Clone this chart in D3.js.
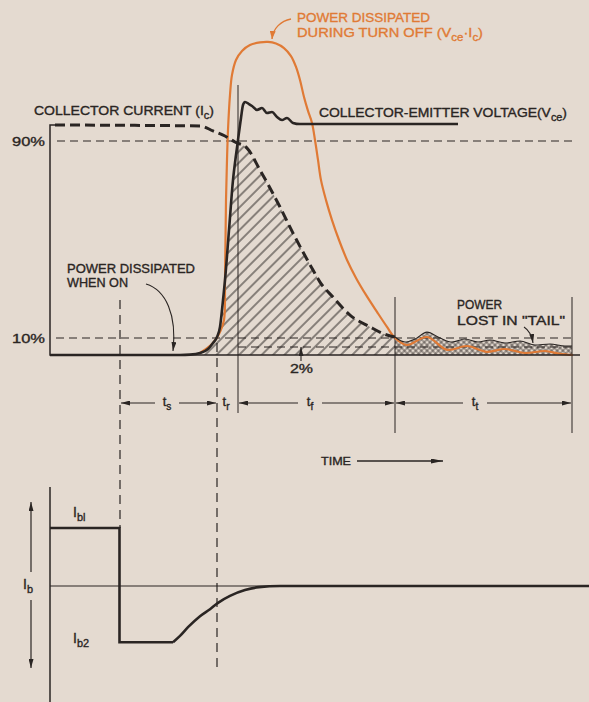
<!DOCTYPE html>
<html><head><meta charset="utf-8">
<script src="https://cdn.jsdelivr.net/npm/d3@7"></script>
<style>html,body{margin:0;padding:0;background:#e4dad0;} svg{display:block}</style>
</head><body><svg id="c" width="589" height="702"></svg>
<script>
// ---------- data (time in arbitrary units, amplitude in % of full scale) ----------
const icTime   = [5,150,163,175,185,197,210,230,243,253,263,270,283,300,320,337,345];
const icPct    = [100,99.4,96.3,93.1,89.6,87.1,78.2,63.2,52.6,44.9,37.6,32.7,26.6,19.3,14.5,11.2,10.4];
const tailTime = [345,355,365,377,390,402,415,428,440,455,470,485,500,515,522];
const tailPct  = [10.4,6.4,9.1,12.4,10,6.4,9.1,6.4,8.2,5.6,7.3,3.8,4.7,2.9,2.9];
const vceTime  = [0,130,140,150,158,163,167,170,172,173,175,179,183,186,188,191,193,195,199,202,207,212,217,222,227,232,237,243,250,262,408];
const vcePct   = [0,0,0.1,0.5,1.5,5.6,10.4,14.5,21.4,25.4,33.5,53.8,74.1,84.3,90.6,104.4,112.5,114.4,113.1,111.9,109.4,110.6,107.5,108.1,105,103.1,104.4,101.3,100.6,100.6,100.6];
const powTime  = [150,163,170,174,175,176,177,178,180,182,186,192,200,210,218,226,234,241,246,250,254,258,262,265,268,271,276,282,289,297,306,316,327,337,345,357,377,397,417,437,455,475,495,510,523];
const powPct   = [0.5,5.6,12.4,17.3,33.5,66.0,82.3,96.9,118.8,131.3,140.6,146.3,150,151.6,151.9,150.9,148.1,143.1,136.3,128.1,117.5,108.8,101.3,90.6,82.3,74.1,66.0,57.9,49.8,41.7,34.4,27.5,20.6,14.5,10,3.8,10.4,1.3,2.9,0.8,1.5,0.5,1.0,0.3,0];
const ibTime   = [0,69.5,69.5,123,130,138,150,160,168,180,195,209,230,539];
const ibVal    = [1,1,-0.97,-0.97,-0.86,-0.71,-0.52,-0.40,-0.29,-0.17,-0.07,-0.02,0,0];
const refLevels = [90,10,2];
const refLabels = ["90%","10%",""];
const eventTimes = [70,167,188,345,522];       // start of ts, tr, tf, tt, end
const intervalNames = ["s","r","f","t"];

// ---------- scales ----------
const x = d3.scaleLinear().domain([0,530]).range([50,580]);
const y = d3.scaleLinear().domain([0,2,10,90,100]).range([355,347,338,141,125]);
const yIb = d3.scaleLinear().domain([-1,1]).range([644,528]);

const ink = '#2a2523', orange = '#e07a35', paper = '#e4dad0';
const FONT = "'Liberation Sans', Arial, sans-serif";
const svg = d3.select('#c');
svg.append('rect').attr('width',589).attr('height',702).attr('fill',paper);
const defs = svg.append('defs');

// patterns
const ph = defs.append('pattern').attr('id','hatch').attr('patternUnits','userSpaceOnUse')
  .attr('width',8).attr('height',8).attr('patternTransform','rotate(45)');
ph.append('line').attr('x1',4).attr('y1',0).attr('x2',4).attr('y2',8).attr('stroke',ink).attr('stroke-width',1);
const pc = defs.append('pattern').attr('id','cross').attr('patternUnits','userSpaceOnUse')
  .attr('width',4).attr('height',4).attr('patternTransform','rotate(45)');
pc.append('line').attr('x1',2).attr('y1',0).attr('x2',2).attr('y2',4).attr('stroke',ink).attr('stroke-width',0.7);
pc.append('line').attr('x1',0).attr('y1',2).attr('x2',4).attr('y2',2).attr('stroke',ink).attr('stroke-width',0.7);

// markers
function marker(id, color, len, wid){
  defs.append('marker').attr('id',id).attr('viewBox',`0 0 ${len} ${wid}`).attr('refX',len).attr('refY',wid/2)
    .attr('markerWidth',len).attr('markerHeight',wid).attr('markerUnits','userSpaceOnUse').attr('orient','auto-start-reverse')
    .append('path').attr('d',`M0,0L${len},${wid/2}L0,${wid}Z`).attr('fill',color);
}
marker('aInk',ink,9,5); marker('aOr',orange,8,6); marker('aLong',ink,12,5);

const zip = (a,b)=>a.map((v,i)=>[v,b[i]]);
const icData = zip(icTime,icPct), tailData = zip(tailTime,tailPct), vceData = zip(vceTime,vcePct),
      powData = zip(powTime,powPct), ibData = zip(ibTime,ibVal);

const lineTop = d3.line().x(d=>x(d[0])).y(d=>y(d[1]));
const areaTop = d3.area().x(d=>x(d[0])).y0(y(0)).y1(d=>y(d[1]));

// clip paths for the hatched turn-off region
defs.append('clipPath').attr('id','clipIc').append('path').attr('d',areaTop.curve(d3.curveMonotoneX)(icData));
defs.append('clipPath').attr('id','clipVce').append('path').attr('d',areaTop.curve(d3.curveMonotoneX)(vceData));

svg.append('g').attr('clip-path','url(#clipIc)').append('g').attr('clip-path','url(#clipVce)')
  .append('rect').attr('x',x(140)).attr('y',100).attr('width',x(350)-x(140)).attr('height',260).attr('fill','url(#hatch)');
// cross-hatched tail
svg.append('path').attr('d',areaTop.curve(d3.curveMonotoneX)(tailData)).attr('fill','url(#cross)');

// text helper with subscripts; parts: [text, isSub]
function label(xp, yb, parts, opts){
  const size = opts.size||12, col = opts.color||ink;
  const t = svg.append('text').attr('x',xp).attr('y',yb).attr('font-family',FONT)
    .attr('font-size',size).attr('fill',col).attr('stroke',col).attr('stroke-width',0.35);
  if(opts.anchor) t.attr('text-anchor',opts.anchor);
  let sub=false;
  parts.forEach(([s,isSub])=>{
    const ts = t.append('tspan').text(s);
    if(isSub){ ts.attr('font-size',size*0.78); if(!sub){ ts.attr('dy',3.5); sub=true; } }
    else if(sub){ ts.attr('dy',-3.5); sub=false; }
  });
  if(opts.w) t.attr('textLength',opts.w).attr('lengthAdjust','spacingAndGlyphs');
  return t;
}

// reference dashed levels
const refStart = [57,56,x(188)];
refLevels.forEach((lv,i)=>{
  svg.append('line').attr('x1',refStart[i]).attr('x2',x(522)+1).attr('y1',y(lv)).attr('y2',y(lv))
    .attr('stroke',ink).attr('stroke-width',1).attr('stroke-dasharray','8,5');
  if(refLabels[i]) label(12, y(lv)+5, [[refLabels[i],0]], {size:13, w:33});
});

// vertical event lines
function vline(t,y1,y2,dash){
  const l = svg.append('line').attr('x1',x(t)).attr('x2',x(t)).attr('y1',y1).attr('y2',y2).attr('stroke',ink)
    .attr('stroke-width',dash?1.2:1);
  if(dash) l.attr('stroke-dasharray','9,6');
}
vline(eventTimes[0],300,528,true);
vline(eventTimes[1],343,673,true);
vline(eventTimes[2],85,413,false);
vline(eventTimes[3],297,433,false);
vline(eventTimes[4],297,433,false);

// dimension arrows
const dimY = 403;
const dimLabelX = [167, 226, 310, 475];
[[0,1,0],[2,3,2],[3,4,3]].forEach(([a,b,k])=>{
  const lx = dimLabelX[k];
  svg.append('line').attr('x1',lx-12).attr('x2',x(eventTimes[a])+1).attr('y1',dimY).attr('y2',dimY)
    .attr('stroke',ink).attr('stroke-width',1.1).attr('marker-end','url(#aInk)');
  svg.append('line').attr('x1',lx+12).attr('x2',x(eventTimes[b])-1).attr('y1',dimY).attr('y2',dimY)
    .attr('stroke',ink).attr('stroke-width',1.1).attr('marker-end','url(#aInk)');
});
intervalNames.forEach((n,i)=> label(dimLabelX[i], dimY+3, [['t',0],[n,1]], {size:13, anchor:'middle'}));

// power curve (orange)
svg.append('path').attr('d',lineTop.curve(d3.curveCatmullRom.alpha(0.5))(powData))
  .attr('fill','none').attr('stroke',orange).attr('stroke-width',2.2);

// collector current (dashed) and tail
svg.append('path').attr('d',lineTop.curve(d3.curveMonotoneX)(icData))
  .attr('fill','none').attr('stroke',ink).attr('stroke-width',3).attr('stroke-dasharray','10,5');
svg.append('path').attr('d',lineTop.curve(d3.curveMonotoneX)(tailData))
  .attr('fill','none').attr('stroke',ink).attr('stroke-width',1.1);

// Vce
svg.append('path').attr('d',lineTop.curve(d3.curveMonotoneX)(vceData))
  .attr('fill','none').attr('stroke',ink).attr('stroke-width',2.6).attr('stroke-linejoin','round');

// upper axes
svg.append('path').attr('d',`M${x(6)},${y(100)}H${x(0)}V${y(0)}H${x(530)}`).attr('fill','none').attr('stroke',ink).attr('stroke-width',1.5);

label(297,22,[["POWER DISSIPATED",0]],{color:orange,w:133,size:13});
label(297,37,[["DURING TURN OFF (V",0],["ce",1],["·I",0],["c",1],[")",0]],{color:orange,w:186,size:13});
label(34,115,[["COLLECTOR CURRENT (I",0],["c",1],[")",0]],{w:180,size:13});
label(319,117,[["COLLECTOR-EMITTER VOLTAGE(V",0],["ce",1],[")",0]],{w:248,size:13});
label(67,273,[["POWER DISSIPATED",0]],{w:128,size:12.5});
label(67,287,[["WHEN ON",0]],{w:61,size:12.5});
label(290,373,[["2%",0]],{w:23,size:12.5});
label(457,309,[["POWER",0]],{w:45,size:12.5});
label(457,325,[["LOST IN \"TAIL\"",0]],{w:108,size:12.5});
label(321,465,[["TIME",0]],{w:30,size:11});

// annotation leaders
svg.append('path').attr('d','M291,19 C281,21 273,28 272,39').attr('fill','none').attr('stroke',orange).attr('stroke-width',1.4).attr('marker-end','url(#aOr)');
svg.append('path').attr('d','M146,284 C166,290 177,315 173,351').attr('fill','none').attr('stroke',ink).attr('stroke-width',1.1).attr('marker-end','url(#aInk)');
svg.append('path').attr('d','M524,327 C530,331 532,336 533,343').attr('fill','none').attr('stroke',ink).attr('stroke-width',1.1).attr('marker-end','url(#aInk)');
svg.append('line').attr('x1',301).attr('x2',301).attr('y1',361).attr('y2',y(2)).attr('stroke',ink).attr('stroke-width',1.1).attr('marker-end','url(#aInk)');
svg.append('line').attr('x1',357).attr('x2',443).attr('y1',461).attr('y2',461).attr('stroke',ink).attr('stroke-width',1.3).attr('marker-end','url(#aLong)');

// ---------- base current panel ----------
svg.append('line').attr('x1',x(0)).attr('x2',589).attr('y1',yIb(0)).attr('y2',yIb(0)).attr('stroke',ink).attr('stroke-width',1.2);
svg.append('line').attr('x1',x(0)).attr('x2',x(0)).attr('y1',487).attr('y2',702).attr('stroke',ink).attr('stroke-width',1.5);
const lineIb = d3.line().x(d=>x(d[0])).y(d=>yIb(d[1]));
svg.append('path').attr('d',lineIb(ibData.slice(0,4))).attr('fill','none').attr('stroke',ink).attr('stroke-width',2.6).attr('stroke-linejoin','miter');
svg.append('path').attr('d',lineIb.curve(d3.curveMonotoneX)(ibData.slice(3))).attr('fill','none').attr('stroke',ink).attr('stroke-width',2.6);
label(73,517,[["I",0],["bl",1]],{size:14});
label(73,643,[["I",0],["b2",1]],{size:14});
label(23,589,[["I",0],["b",1]],{size:14});
svg.append('line').attr('x1',31).attr('x2',31).attr('y1',572).attr('y2',502).attr('stroke',ink).attr('stroke-width',1.2).attr('marker-end','url(#aInk)');
svg.append('line').attr('x1',31).attr('x2',31).attr('y1',600).attr('y2',668).attr('stroke',ink).attr('stroke-width',1.2).attr('marker-end','url(#aInk)');
</script></body></html>
